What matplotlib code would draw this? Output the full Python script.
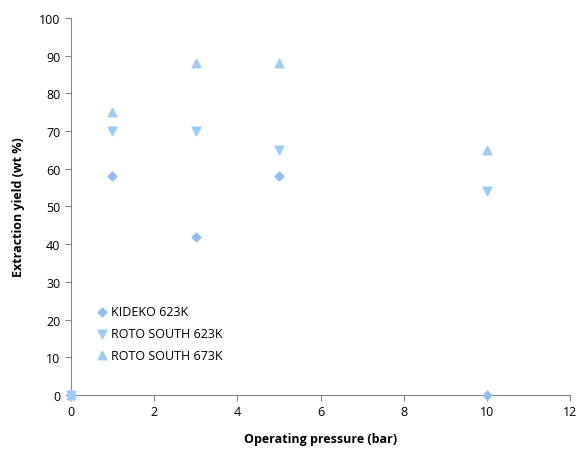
import matplotlib
matplotlib.use("Agg")
import matplotlib.pyplot as plt

plt.rcParams['font.family'] = ['Open Sans', 'DejaVu Sans']

pressure = [0, 1, 3, 5, 10]
kideko_623 = [0, 58, 42, 58, 0]
roto_623 = [0, 70, 70, 65, 54]
roto_673 = [0, 75, 88, 88, 65]

fig = plt.figure(figsize=(5.76, 4.52), dpi=100)
ax = fig.add_axes([0.123, 0.124, 0.867, 0.834])

ax.scatter(pressure, kideko_623, marker='D', s=20, color='#94BDF0', label='KIDEKO 623K', zorder=3, clip_on=False)
ax.scatter(pressure, roto_623, marker='v', s=38, color='#99CCFF', label='ROTO SOUTH 623K', zorder=3, clip_on=False)
ax.scatter(pressure, roto_673, marker='^', s=38, color='#A3CBF2', label='ROTO SOUTH 673K', zorder=3, clip_on=False)

ax.set_xlim(0, 12)
ax.set_ylim(0, 100)
ax.set_xticks(range(0, 13, 2))
ax.set_yticks(range(0, 101, 10))
ax.tick_params(labelsize=9, direction='out', length=4, color='#868686')
for side in ['top', 'right']:
    ax.spines[side].set_visible(False)
for side in ['left', 'bottom']:
    ax.spines[side].set_color('#868686')
ax.set_xlabel('Operating pressure (bar)', fontsize=9, fontweight='bold', labelpad=10)
ax.set_ylabel('Extraction yield (wt %)', fontsize=9, fontweight='bold', labelpad=10)

ax.legend(loc='lower left', bbox_to_anchor=(0.03, 0.065), frameon=False, fontsize=9,
          handletextpad=0.1, labelspacing=0.7, handlelength=1.2, borderpad=0.2)

fig.savefig('out.png', dpi=100)
